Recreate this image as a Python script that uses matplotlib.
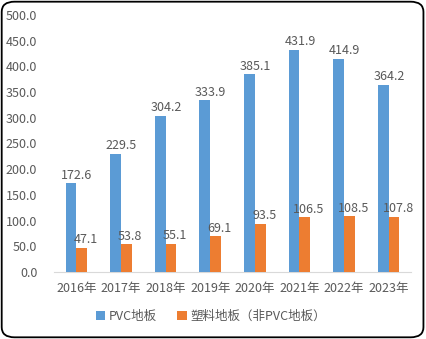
import numpy as np
import matplotlib; matplotlib.use("Agg")
import matplotlib.pyplot as plt
from matplotlib.patches import FancyBboxPatch

years = ["2016年", "2017年", "2018年", "2019年", "2020年", "2021年", "2022年", "2023年"]
pvc = [172.6, 229.5, 304.2, 333.9, 385.1, 431.9, 414.9, 364.2]
plastic = [47.1, 53.8, 55.1, 69.1, 93.5, 106.5, 108.5, 107.8]
series_names = ["PVC地板", "塑料地板（非PVC地板）"]

plt.rcParams["font.family"] = ["Noto Sans CJK SC", "DejaVu Sans"]
TXT = "#595959"
FS = 9

fig = plt.figure(figsize=(4.26, 3.39), dpi=100)
ax = fig.add_axes([54/426, 1 - 272/339, 357/426, 257/339])

x = np.arange(len(years))
w = 0.24
b1 = ax.bar(x - w/2, pvc, w, color="#5B9BD5", label=series_names[0], zorder=3)
b2 = ax.bar(x + w/2, plastic, w, color="#ED7D31", label=series_names[1], zorder=3)

for rect, v in zip(b1, pvc):
    ax.text(rect.get_x() + rect.get_width()/2 + 0.13, v + 3, f"{v:.1f}",
            ha="center", va="bottom", fontsize=FS, color=TXT)
for rect, v in zip(b2, plastic):
    ax.text(rect.get_x() + rect.get_width()/2 + 0.09, v + 3, f"{v:.1f}",
            ha="center", va="bottom", fontsize=FS, color=TXT)

ax.set_xlim(-0.5, len(years) - 0.5)
ax.set_ylim(0, 500)
ax.set_yticks(np.arange(0, 501, 50))
ax.set_yticklabels([f"{t:.1f}" for t in np.arange(0, 501, 50)])
ax.set_xticks(x)
ax.set_xticklabels(years)
ax.tick_params(length=0, labelsize=FS, colors=TXT)
ax.tick_params(axis="y", pad=12)
ax.tick_params(axis="x", pad=7)
for s in ["top", "right", "left"]:
    ax.spines[s].set_visible(False)
ax.spines["bottom"].set_color("#D9D9D9")

ax.legend(loc="center", bbox_to_anchor=(0.44, -0.173), ncol=2, frameon=False,
          fontsize=FS, labelcolor=TXT, handlelength=0.75, handleheight=0.75,
          handletextpad=0.3, columnspacing=1.6)

border = FancyBboxPatch((0.004, 0.005), 0.99, 0.99, boxstyle="round,pad=0,rounding_size=0.03",
                        transform=fig.transFigure, fill=False, edgecolor="black", lw=1.3)
fig.patches.append(border)

fig.savefig("out.png", dpi=100)
